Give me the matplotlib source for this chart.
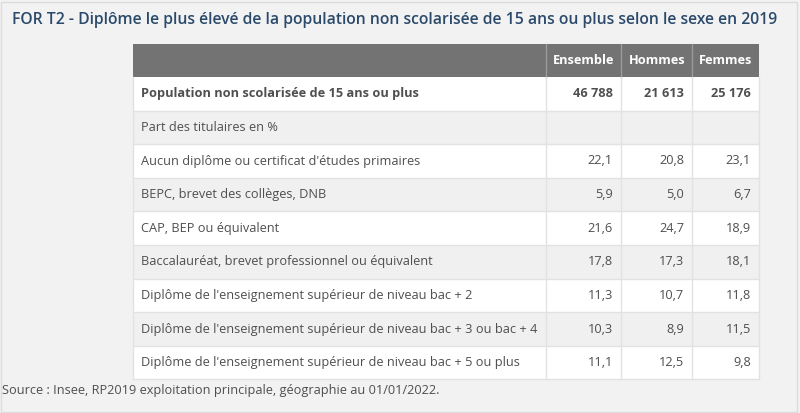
import matplotlib.pyplot as plt
from matplotlib.patches import Rectangle

plt.rcParams['font.family'] = ['Open Sans', 'DejaVu Sans']

title = "FOR T2 - Diplôme le plus élevé de la population non scolarisée de 15 ans ou plus selon le sexe en 2019"
source = "Source : Insee, RP2019 exploitation principale, géographie au 01/01/2022."

columns = ["Ensemble", "Hommes", "Femmes"]
row_labels = [
    "Population non scolarisée de 15 ans ou plus",
    "Part des titulaires en %",
    "Aucun diplôme ou certificat d'études primaires",
    "BEPC, brevet des collèges, DNB",
    "CAP, BEP ou équivalent",
    "Baccalauréat, brevet professionnel ou équivalent",
    "Diplôme de l'enseignement supérieur de niveau bac + 2",
    "Diplôme de l'enseignement supérieur de niveau bac + 3 ou bac + 4",
    "Diplôme de l'enseignement supérieur de niveau bac + 5 ou plus",
]
ensemble = [46788, None, 22.1, 5.9, 21.6, 17.8, 11.3, 10.3, 11.1]
hommes = [21613, None, 20.8, 5.0, 24.7, 17.3, 10.7, 8.9, 12.5]
femmes = [25176, None, 23.1, 6.7, 18.9, 18.1, 11.8, 11.5, 9.8]


def fmt(v):
    if v is None:
        return ""
    if isinstance(v, int):
        return f"{v:,}".replace(",", " ")
    return f"{v:.1f}".replace(".", ",")


W, H = 800, 413
fig = plt.figure(figsize=(W / 100, H / 100), dpi=100)
fig.patch.set_facecolor("#f2f2f2")
ax = fig.add_axes([0, 0, 1, 1])
ax.set_xlim(0, W)
ax.set_ylim(H, 0)
ax.axis("off")

# outer frame
ax.add_patch(Rectangle((0.5, 1.5), W - 4, H - 3, fill=False, ec="#dcdcdc", lw=1))

col_edges = [133, 546, 621, 692, 759]
top = 44
head_h = 33
row_h = 33.6
grid = "#e2e2e2"
text_c = "#4f4f4f"

ax.text(12, 20.5, title, fontsize=11.3, color="#2b4a6b", fontweight="semibold",
        va="center", ha="left")

# header
ax.add_patch(Rectangle((col_edges[0], top), col_edges[-1] - col_edges[0], head_h,
                       fc="#737373", ec="none"))
for j, name in enumerate(columns):
    ax.text(col_edges[j + 2] - 7, top + head_h / 2, name, fontsize=9.2,
            color="white", fontweight="bold", ha="right", va="center")
for x in col_edges[1:-1]:
    ax.plot([x, x], [top, top + head_h], color="#9a9a9a", lw=1)

values = list(zip(ensemble, hommes, femmes))
for i, (lab, vals) in enumerate(zip(row_labels, values)):
    y0 = top + head_h + i * row_h
    fc = "white" if i % 2 == 0 else "#f0f0f0"
    ax.add_patch(Rectangle((col_edges[0], y0), col_edges[-1] - col_edges[0], row_h,
                           fc=fc, ec="none"))
    ax.plot([col_edges[0], col_edges[-1]], [y0 + row_h, y0 + row_h], color=grid, lw=1)
    bold = "bold" if i == 0 else "normal"
    yc = y0 + row_h / 2
    ax.text(col_edges[0] + 8, yc, lab, fontsize=9.2, color=text_c,
            fontweight=bold, ha="left", va="center")
    for j, v in enumerate(vals):
        ax.text(col_edges[j + 2] - 8, yc, fmt(v), fontsize=9.2, color=text_c,
                fontweight=bold, ha="right", va="center")

bottom = top + head_h + len(row_labels) * row_h
for x in col_edges[1:-1]:
    ax.plot([x, x], [top + head_h, bottom], color=grid, lw=1)
ax.plot([col_edges[0], col_edges[0]], [top + head_h, bottom], color=grid, lw=1)
ax.plot([col_edges[-1], col_edges[-1]], [top + head_h, bottom], color=grid, lw=1)

ax.text(2, bottom + 11, source, fontsize=9.2, color=text_c, ha="left", va="center")

fig.savefig("out.png", dpi=100, facecolor=fig.get_facecolor())
